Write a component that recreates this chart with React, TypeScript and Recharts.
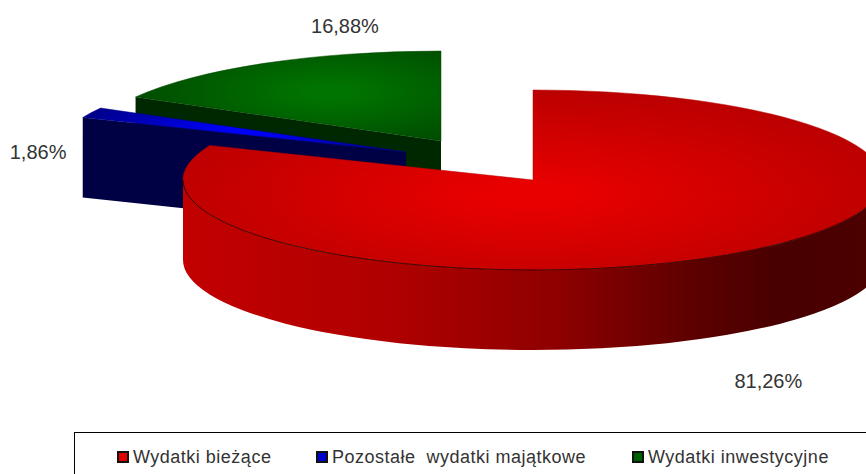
import React from "react";
import { PieChart, Pie, Legend } from "recharts";

// Values, in the reference's reading order
const categories = ["Wydatki bieżące", "Pozostałe  wydatki majątkowe", "Wydatki inwestycyjne"];
const shares = [81.26, 1.86, 16.88];
const shareLabels = ["81,26%", "1,86%", "16,88%"];

// Styles per category, in the same order
const topBright = ["#e80000", "#0000ff", "#007400"];
const topDark = ["#b80000", "#00008a", "#004800"];
const faceColor = ["#a00000", "#000044", "#002800"];
const swatches = ["#e00000", "#0000c8", "#006000"];
const explode = [{ x: 0, y: 0 }, { x: -127, y: -28 }, { x: -92, y: -39 }];
const glow = [
  { x: 530, y: 195, rx: 400, ry: 110 },
  { x: 250, y: 128, rx: 170, ry: 40 },
  { x: 330, y: 92, rx: 215, ry: 62 },
];
const labelOffset = [{ x: 41, y: 126 }, { x: -53, y: 39 }, { x: 81, y: -37 }];
const legendLeft = [42, 241, 557];

const W = 866;
const H = 474;
const CX = 533;
const CY = 180;
const RX = 350;
const RY = 90;
const DEPTH = 80;

// Drawn back to front, sweeping counter-clockwise from 12 o'clock
const pieData = categories
  .map((name, i) => ({ name, value: shares[i], srcIndex: i }))
  .reverse();

const rad = (a: number) => (a * Math.PI) / 180;
const pt = (ox: number, oy: number, a: number, drop = 0) => ({
  x: ox + RX * Math.cos(rad(a)),
  y: oy - RY * Math.sin(rad(a)) + drop,
});

function EllipseSlice(props: any) {
  const { startAngle, endAngle, payload } = props;
  const i = payload?.srcIndex ?? props.srcIndex;
  const off = explode[i];
  const ox = CX + off.x;
  const oy = CY + off.y;
  const g = glow[i];
  const a = Math.min(startAngle, endAngle);
  const b = Math.max(startAngle, endAngle);
  const s = pt(ox, oy, a);
  const e = pt(ox, oy, b);
  const top = `M${ox},${oy} L${s.x},${s.y} A${RX},${RY} 0 ${b - a > 180 ? 1 : 0} 0 ${e.x},${e.y} Z`;

  // Front part of the rim
  const fa = Math.max(a, 180);
  const fb = Math.min(b, 360);
  let rim: React.ReactNode = null;
  if (fb > fa) {
    const p = pt(ox, oy, fa);
    const q = pt(ox, oy, fb);
    const large = fb - fa > 180 ? 1 : 0;
    rim = (
      <g>
        <path
          d={`M${p.x},${p.y} A${RX},${RY} 0 ${large} 0 ${q.x},${q.y} L${q.x},${q.y + DEPTH} A${RX},${RY} 0 ${large} 1 ${p.x},${p.y + DEPTH} Z`}
          fill={`url(#rim${i})`}
        />
      </g>
    );
  }

  // Cut face that looks towards the viewer
  const cutAngle = Math.cos(rad(b)) < -0.01 ? b : null;
  let face: React.ReactNode = null;
  if (cutAngle !== null) {
    const c = pt(ox, oy, cutAngle);
    face = (
      <path
        d={`M${ox},${oy} L${c.x},${c.y} L${c.x},${c.y + DEPTH} L${ox},${oy + DEPTH} Z`}
        fill={faceColor[i]}
      />
    );
  }

  let edge: React.ReactNode = null;
  if (fb > fa) {
    const p = pt(ox, oy, fa);
    const q = pt(ox, oy, fb);
    edge = <path d={`M${p.x},${p.y} A${RX},${RY} 0 ${fb - fa > 180 ? 1 : 0} 0 ${q.x},${q.y}`} fill="none" stroke="#200000" strokeWidth={0.8} />;
  }

  return (
    <g>
      <defs>
        <radialGradient
          id={`top${i}`}
          gradientUnits="userSpaceOnUse"
          cx={0}
          cy={0}
          r={1}
          gradientTransform={`translate(${g.x} ${g.y}) scale(${g.rx} ${g.ry})`}
        >
          <stop offset="0.1" stopColor={topBright[i]} />
          <stop offset="1" stopColor={topDark[i]} />
        </radialGradient>
        <linearGradient id={`rim${i}`} gradientUnits="userSpaceOnUse" x1={183} y1={0} x2={866} y2={0}>
          <stop offset="0" stopColor="#c20000" />
          <stop offset="0.3" stopColor="#b00000" />
          <stop offset="0.55" stopColor="#8e0000" />
          <stop offset="0.75" stopColor="#5c0000" />
          <stop offset="0.88" stopColor="#480000" />
          <stop offset="1" stopColor="#4c0000" />
        </linearGradient>
      </defs>
      {face}
      {rim}
      <path d={top} fill={`url(#top${i})`} stroke={topDark[i]} strokeWidth={0.5} />
      {edge}
    </g>
  );
}

function sliceLabel(props: any) {
  const i = props.payload?.srcIndex ?? props.srcIndex;
  const off = explode[i];
  const m = pt(CX + off.x, CY + off.y, props.midAngle);
  return (
    <text
      key={i}
      x={m.x + labelOffset[i].x}
      y={m.y + labelOffset[i].y}
      textAnchor="middle"
      dominantBaseline="central"
      fontFamily="'Liberation Sans', Arial, sans-serif"
      fontSize={20}
      fill="#333333"
    >
      {shareLabels[i]}
    </text>
  );
}

function LegendBox() {
  return (
    <div
      style={{
        position: "relative",
        width: 792,
        height: 42,
        boxSizing: "border-box",
        borderTop: "1px solid #000",
        borderLeft: "1px solid #000",
        background: "#fff",
        fontFamily: "'Liberation Sans', Arial, sans-serif",
        fontSize: 18,
        letterSpacing: 0.5,
        color: "#333",
      }}
    >
      {categories.map((c, i) => (
        <div
          key={c}
          style={{ position: "absolute", left: legendLeft[i], top: 13, display: "flex", alignItems: "center", whiteSpace: "pre", lineHeight: "22px" }}
        >
          <span
            style={{ display: "inline-block", boxSizing: "border-box", width: 12, height: 12, marginRight: 4, border: "2px solid #111", background: swatches[i] }}
          />
          {c}
        </div>
      ))}
    </div>
  );
}

export default function App() {
  return (
    <div style={{ position: "absolute", left: 0, top: 0, width: W, height: H, background: "#fff", overflow: "hidden" }}>
      <PieChart width={W} height={H} margin={{ top: 0, right: 0, bottom: 0, left: 0 }}>
        <Pie
          data={pieData}
          dataKey="value"
          nameKey="name"
          cx={CX}
          cy={CY}
          innerRadius={0}
          outerRadius={RX}
          startAngle={90}
          endAngle={450}
          stroke="none"
          isAnimationActive={false}
          shape={EllipseSlice}
          label={sliceLabel}
          labelLine={false}
        />
        <Legend
          content={<LegendBox />}
          wrapperStyle={{ position: "absolute", left: 74, top: 432, width: 792, height: 42, margin: 0, padding: 0 }}
        />
      </PieChart>
    </div>
  );
}
